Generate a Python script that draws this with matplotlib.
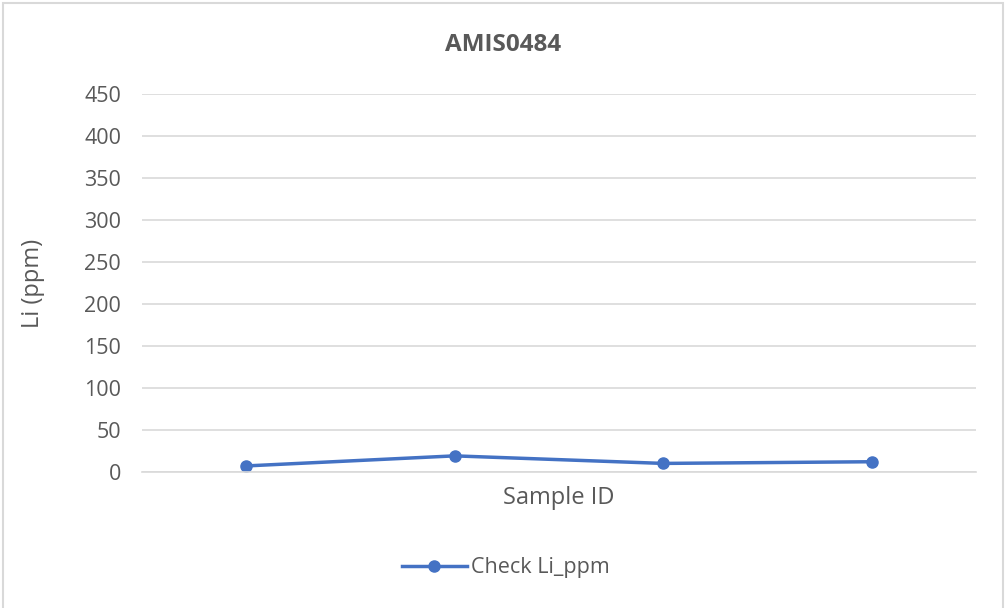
import matplotlib.pyplot as plt
from matplotlib.patches import Rectangle

plt.rcParams['font.family'] = ['Open Sans', 'DejaVu Sans']

# Data
samples = ['1', '2', '3', '4']
li_ppm = [7, 19, 10, 12]
y_ticks = [0, 50, 100, 150, 200, 250, 300, 350, 400, 450]

text_color = '#595959'
line_color = '#4472C4'

fig = plt.figure(figsize=(10.06, 6.08), dpi=100)
ax = fig.add_axes([0.141, 0.224, 0.829, 0.621])

x = range(len(samples))
ax.plot(x, li_ppm, color=line_color, linewidth=2.5, marker='o', markersize=8,
        label='Check Li_ppm')

ax.set_xlim(-0.5, len(samples) - 0.5)
ax.set_ylim(0, 450)
ax.set_yticks(y_ticks)
ax.set_xticks([])
ax.grid(axis='y', color='#d9d9d9', linewidth=1.2)
ax.set_axisbelow(True)
for side in ['top', 'right', 'left']:
    ax.spines[side].set_visible(False)
ax.spines['bottom'].set_color('#d9d9d9')
ax.spines['bottom'].set_linewidth(1.2)
ax.tick_params(axis='y', length=0, pad=15, labelsize=15.5, labelcolor=text_color)

fig.text(0.5, 1 - 45 / 608, 'AMIS0484', ha='center', va='center',
         fontsize=17.5, fontweight='bold', color=text_color)
ax.set_xlabel('Sample ID', fontsize=17, color=text_color, labelpad=10)
ax.set_ylabel('Li (ppm)', fontsize=17, color=text_color, labelpad=28)

fig.legend(loc='center', bbox_to_anchor=(0.503, 0.066), frameon=False,
           fontsize=15.5, labelcolor=text_color, handlelength=3.0, handletextpad=0.2)

# Chart border
fig.patches.append(Rectangle((0.003, -0.01), 0.994, 1.005, transform=fig.transFigure,
                             fill=False, edgecolor='#d9d9d9', linewidth=1.5))

fig.savefig('out.png', dpi=100)
